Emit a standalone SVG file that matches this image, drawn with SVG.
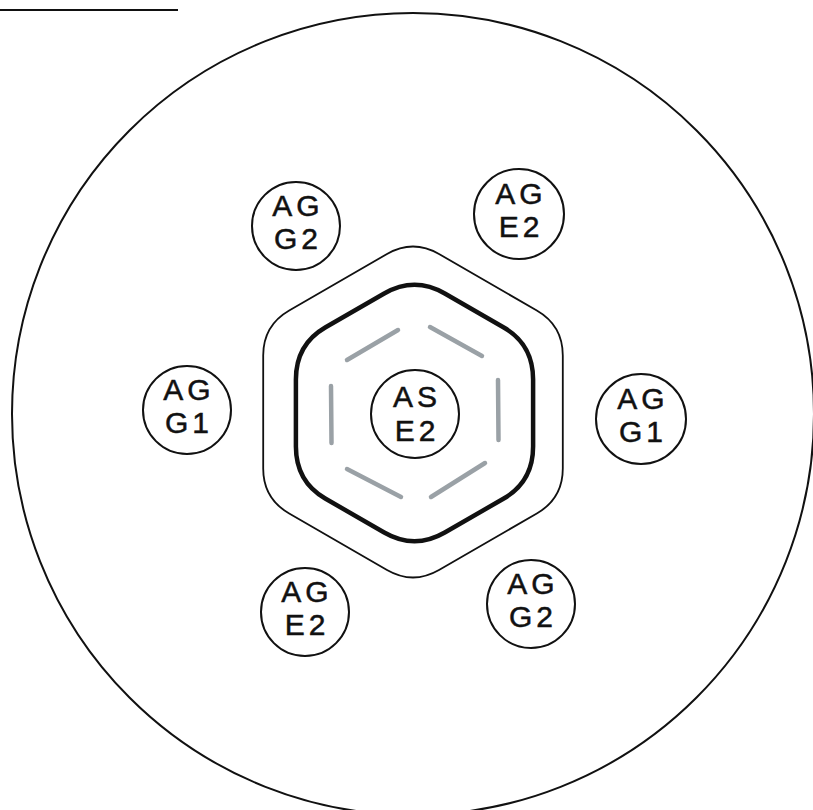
<svg xmlns="http://www.w3.org/2000/svg" width="813" height="810" viewBox="0 0 813 810">
<style>
.ring{fill:none;stroke:#111;stroke-width:2}
.hex-thin{fill:none;stroke:#111;stroke-width:1.8}
.hex-thick{fill:none;stroke:#111;stroke-width:4.5}
.node circle{fill:#fff;stroke:#111;stroke-width:2}
.node text{font-family:"Liberation Sans","DejaVu Sans",sans-serif;font-size:30px;fill:#111;stroke:#111;stroke-width:0.5;text-anchor:middle;letter-spacing:4px}
.dash{stroke:#9aa1a6;stroke-width:4.5;stroke-linecap:round;fill:none}
</style>
<rect width="813" height="810" fill="#fff"/>
<line x1="0" y1="10" x2="178" y2="10" stroke="#111" stroke-width="2"/>
<g id="dish">
<circle class="ring" cx="413" cy="414" r="401"/>
</g>
<g id="outer-hexagon">
<path class="hex-thin" d="M 387.0 254.0 Q 413 239 439.0 254.0 L 536.8 310.5 Q 562.8 325.5 562.8 355.5 L 562.8 468.5 Q 562.8 498.5 536.8 513.5 L 439.0 570.0 Q 413 585 387.0 570.0 L 289.2 513.5 Q 263.2 498.5 263.2 468.5 L 263.2 355.5 Q 263.2 325.5 289.2 310.5 Z"/>
</g>
<g id="inner-hexagon">
<path class="hex-thick" d="M 384.2 293.5 Q 414.5 276 444.8 293.5 L 503.8 327.5 Q 533.1 344.5 533.1 379.5 L 533.1 446.5 Q 533.1 481.5 503.8 498.5 L 444.8 532.5 Q 414.5 550 384.2 532.5 L 325.2 498.5 Q 295.9 481.5 295.9 446.5 L 295.9 379.5 Q 295.9 344.5 325.2 327.5 Z"/>
</g>
<g id="gel-dashes">
<line class="dash" x1="430" y1="327" x2="482" y2="356"/>
<line class="dash" x1="347" y1="360" x2="398" y2="330"/>
<line class="dash" x1="498" y1="380" x2="498.5" y2="440"/>
<line class="dash" x1="331" y1="386" x2="331.5" y2="443"/>
<line class="dash" x1="347" y1="469" x2="401" y2="497"/>
<line class="dash" x1="431" y1="497" x2="485" y2="463"/>
</g>
<g id="connectors"></g>
<g id="node-AS-E2" class="node">
<circle cx="415" cy="414" r="44"/>
<text x="417" y="407">AS</text>
<text x="417" y="441">E2</text>
</g>
<g id="node-AG-G2-top" class="node">
<circle cx="296" cy="226" r="44"/>
<text x="298" y="216">AG</text>
<text x="298" y="249">G2</text>
</g>
<g id="node-AG-E2-top" class="node">
<circle cx="519" cy="214" r="45"/>
<text x="521" y="204">AG</text>
<text x="521" y="237">E2</text>
</g>
<g id="node-AG-G1-left" class="node">
<circle cx="187" cy="410" r="44"/>
<text x="189" y="400">AG</text>
<text x="189" y="433">G1</text>
</g>
<g id="node-AG-G1-right" class="node">
<circle cx="641" cy="419" r="45"/>
<text x="643" y="409">AG</text>
<text x="643" y="442">G1</text>
</g>
<g id="node-AG-E2-bottom" class="node">
<circle cx="305" cy="612" r="44"/>
<text x="307" y="602">AG</text>
<text x="307" y="635">E2</text>
</g>
<g id="node-AG-G2-bottom" class="node">
<circle cx="531" cy="604" r="44"/>
<text x="533" y="594">AG</text>
<text x="533" y="627">G2</text>
</g>
</svg>
